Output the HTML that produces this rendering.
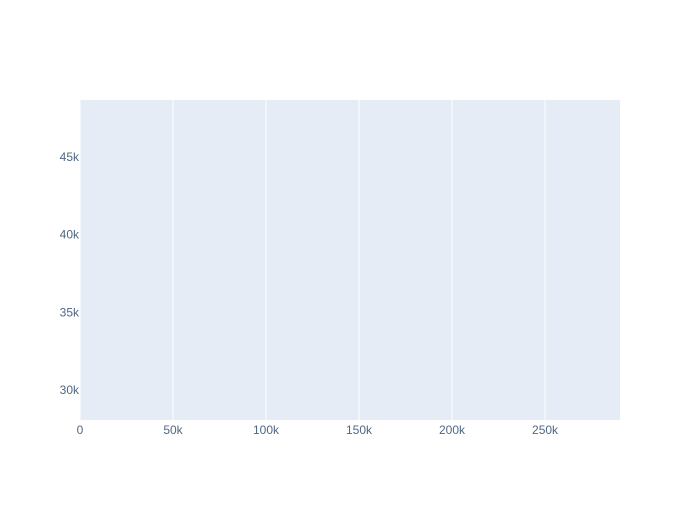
<!DOCTYPE html>
<html><head><meta charset="utf-8"><style>
body{margin:0;background:#fff;}
svg text{font-family:"Liberation Sans",sans-serif;font-size:12px;fill:#506784;}
</style></head><body>
<svg id="chart" width="700" height="500" xmlns="http://www.w3.org/2000/svg">
<rect x="80.5" y="100" width="539.5" height="320" fill="#e5ecf6"/>
<g id="grid"></g><g id="marks"></g><g id="xt"></g><g id="yt"></g>
</svg>
<script>
const xTicks=[0,50000,100000,150000,200000,250000];
const xTickLabels=["0","50k","100k","150k","200k","250k"];
const yTicks=[30000,35000,40000,45000];
const yTickLabels=["30k","35k","40k","45k"];
const xValues=[];
const yValues=[];
const X0=80,X1=620,Y0=420,Y1=100;
const xMin=0,xMax=290300,yMin=28080,yMax=48650;
function sx(v){return X0+(v-xMin)/(xMax-xMin)*(X1-X0);}
function sy(v){return Y0-(v-yMin)/(yMax-yMin)*(Y0-Y1);}
const NS="http://www.w3.org/2000/svg";
const grid=document.getElementById('grid'),xt=document.getElementById('xt'),yt=document.getElementById('yt'),marks=document.getElementById('marks');
xTicks.forEach((t,i)=>{
  if(t!==0){
    const l=document.createElementNS(NS,'line');
    
    
    l.setAttribute('x1',sx(t));l.setAttribute('x2',sx(t));l.setAttribute('y1',Y1);l.setAttribute('y2',Y0);
    l.setAttribute('stroke','#fff');l.setAttribute('stroke-width','1');
    grid.appendChild(l);
  }
  const tx=document.createElementNS(NS,'text');
  
  
  tx.setAttribute('x',sx(t));tx.setAttribute('y',434);tx.setAttribute('text-anchor','middle');
  tx.textContent=xTickLabels[i];xt.appendChild(tx);
});
yTicks.forEach((t,i)=>{
  const tx=document.createElementNS(NS,'text');
  
  
  tx.setAttribute('x',79);tx.setAttribute('y',sy(t)+4);tx.setAttribute('text-anchor','end');
  tx.textContent=yTickLabels[i];yt.appendChild(tx);
});
xValues.forEach((v,i)=>{
  const c=document.createElementNS(NS,'circle');
  
  
  c.setAttribute('cx',sx(v));c.setAttribute('cy',sy(yValues[i]));c.setAttribute('r',3);c.setAttribute('fill','#636efa');
  marks.appendChild(c);
});
</script>
</body></html>
